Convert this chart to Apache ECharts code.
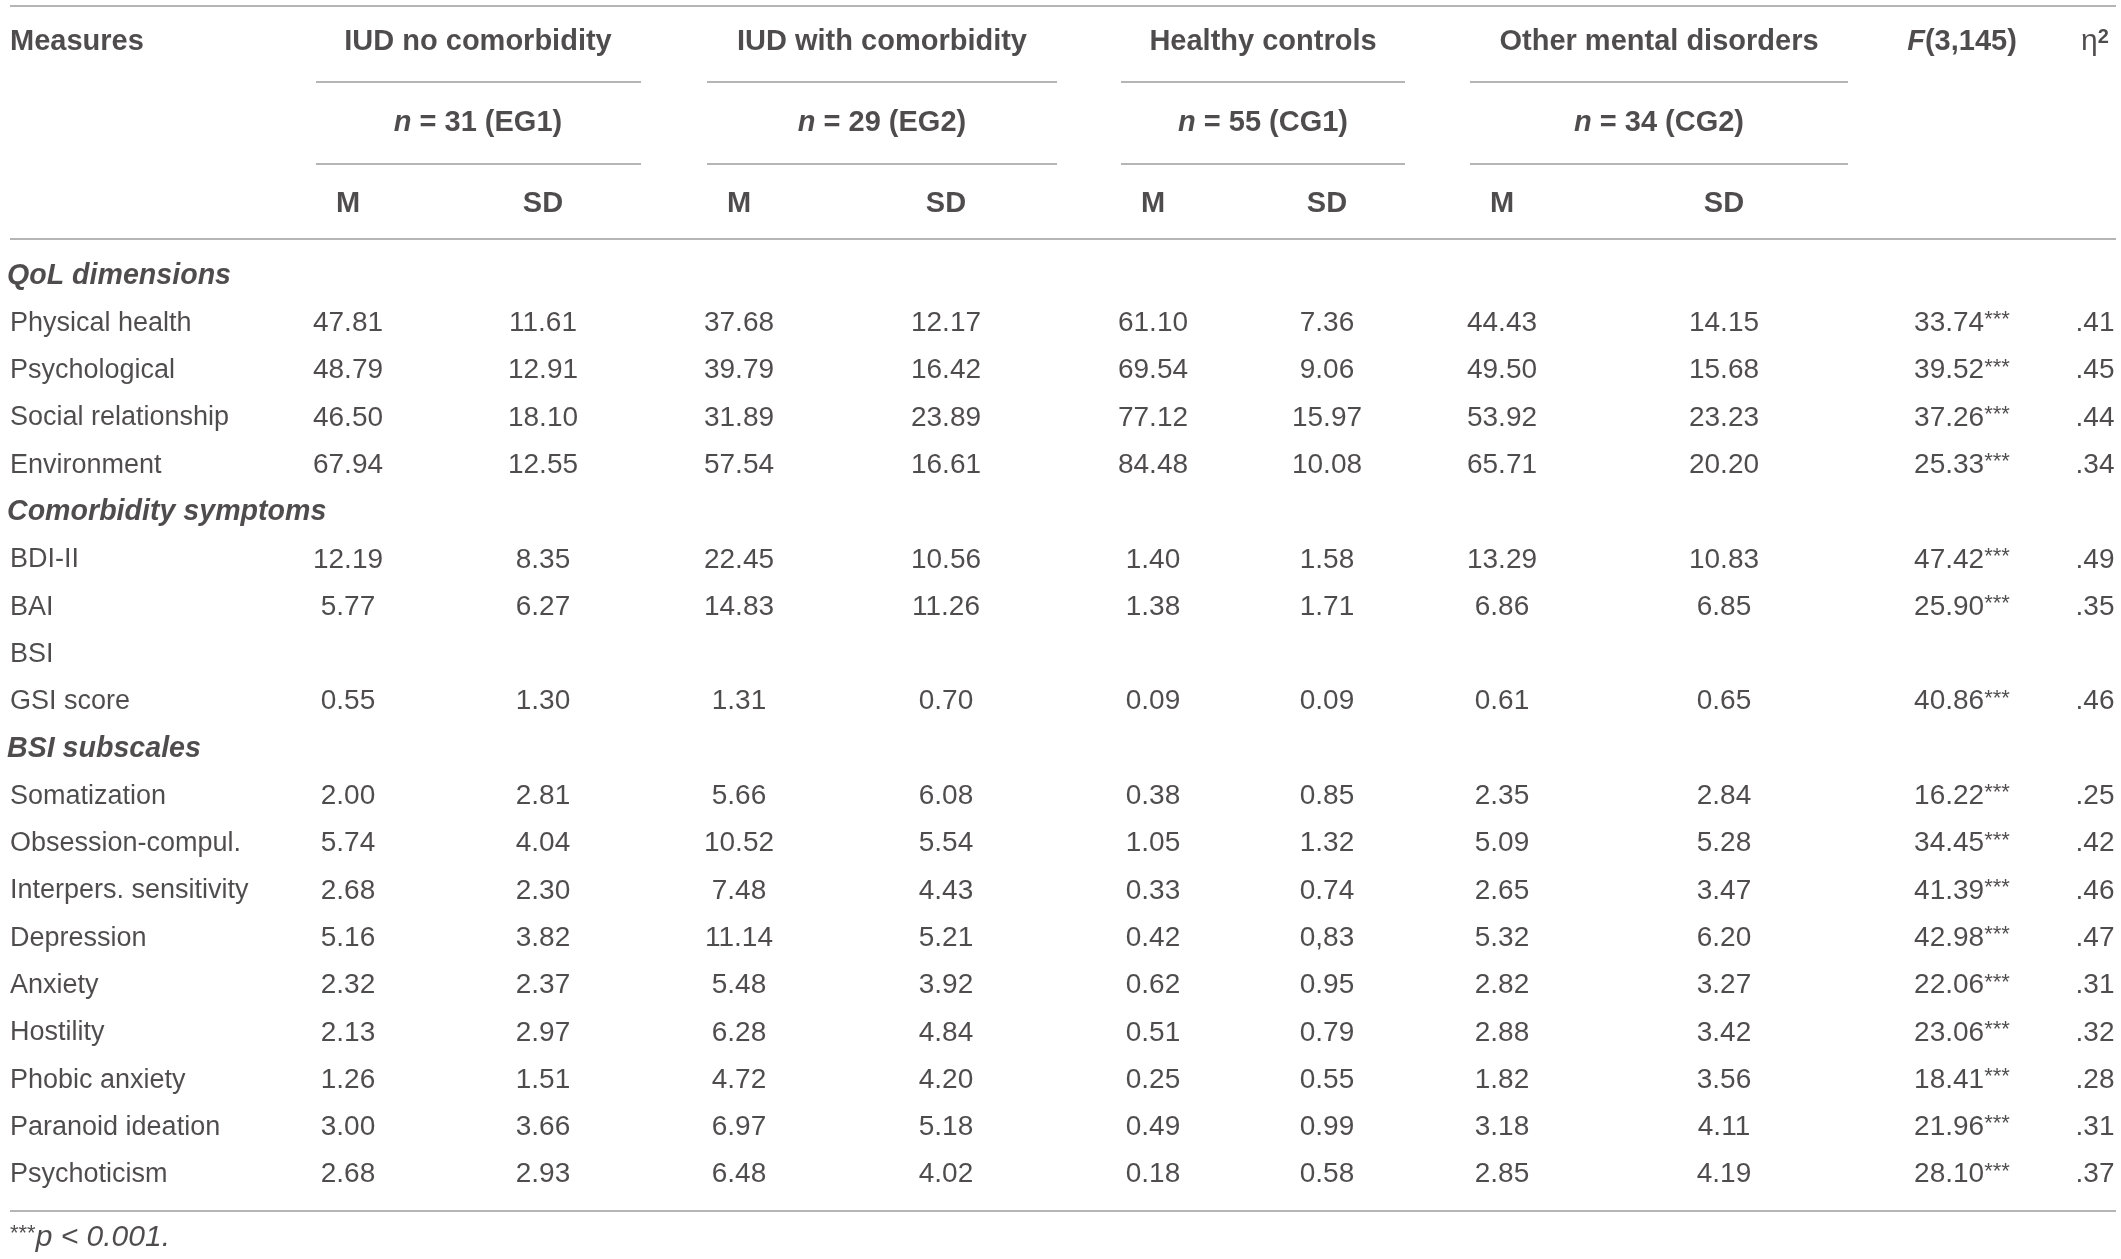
<!DOCTYPE html>
<html>
<head>
    <meta charset="utf-8">
    <title>Quality of life and comorbidity by group</title>
    <script src="https://cdn.jsdelivr.net/npm/echarts@6.0.0/dist/echarts.min.js"></script>
    <style>
        html, body { margin: 0; padding: 0; background: #fff; }
        #chartmain { width: 2121px; height: 1259px; }
    </style>
</head>
<body>
<div id="chartmain"></div>
<script type="text/javascript">
    // ---- table content ----
    var groupNames = ['IUD no comorbidity', 'IUD with comorbidity', 'Healthy controls', 'Other mental disorders'];
    var groupN = ['31 (EG1)', '29 (EG2)', '55 (CG1)', '34 (CG2)'];
    var statNames = ['M', 'SD'];

    var rowLabels = ['QoL dimensions', 'Physical health', 'Psychological', 'Social relationship', 'Environment',
        'Comorbidity symptoms', 'BDI-II', 'BAI', 'BSI', 'GSI score',
        'BSI subscales', 'Somatization', 'Obsession-compul.', 'Interpers. sensitivity', 'Depression',
        'Anxiety', 'Hostility', 'Phobic anxiety', 'Paranoid ideation', 'Psychoticism'];
    var sectionRows = ['QoL dimensions', 'Comorbidity symptoms', 'BSI subscales'];

    var eg1M  = [null, '47.81', '48.79', '46.50', '67.94', null, '12.19', '5.77', null, '0.55', null, '2.00', '5.74', '2.68', '5.16', '2.32', '2.13', '1.26', '3.00', '2.68'];
    var eg1SD = [null, '11.61', '12.91', '18.10', '12.55', null, '8.35', '6.27', null, '1.30', null, '2.81', '4.04', '2.30', '3.82', '2.37', '2.97', '1.51', '3.66', '2.93'];
    var eg2M  = [null, '37.68', '39.79', '31.89', '57.54', null, '22.45', '14.83', null, '1.31', null, '5.66', '10.52', '7.48', '11.14', '5.48', '6.28', '4.72', '6.97', '6.48'];
    var eg2SD = [null, '12.17', '16.42', '23.89', '16.61', null, '10.56', '11.26', null, '0.70', null, '6.08', '5.54', '4.43', '5.21', '3.92', '4.84', '4.20', '5.18', '4.02'];
    var cg1M  = [null, '61.10', '69.54', '77.12', '84.48', null, '1.40', '1.38', null, '0.09', null, '0.38', '1.05', '0.33', '0.42', '0.62', '0.51', '0.25', '0.49', '0.18'];
    var cg1SD = [null, '7.36', '9.06', '15.97', '10.08', null, '1.58', '1.71', null, '0.09', null, '0.85', '1.32', '0.74', '0,83', '0.95', '0.79', '0.55', '0.99', '0.58'];
    var cg2M  = [null, '44.43', '49.50', '53.92', '65.71', null, '13.29', '6.86', null, '0.61', null, '2.35', '5.09', '2.65', '5.32', '2.82', '2.88', '1.82', '3.18', '2.85'];
    var cg2SD = [null, '14.15', '15.68', '23.23', '20.20', null, '10.83', '6.85', null, '0.65', null, '2.84', '5.28', '3.47', '6.20', '3.27', '3.42', '3.56', '4.11', '4.19'];
    var fVals = [null, '33.74', '39.52', '37.26', '25.33', null, '47.42', '25.90', null, '40.86', null, '16.22', '34.45', '41.39', '42.98', '22.06', '23.06', '18.41', '21.96', '28.10'];
    var fSig  = '***';
    var etaVals = [null, '.41', '.45', '.44', '.34', null, '.49', '.35', null, '.46', null, '.25', '.42', '.46', '.47', '.31', '.32', '.28', '.31', '.37'];
    var footnote = 'p < 0.001.';

    // ---- layout (pixels) ----
    var W = 2121, H = 1259;
    var colX = [348, 543, 739, 946, 1153, 1327, 1502, 1724, 1962, 2095];
    var groupX = [478, 882, 1263, 1659];
    var groupSpan = [[316, 641], [707, 1057], [1121, 1405], [1470, 1848]];
    var headY = [42, 123, 204];
    var bodyY0 = 276, rowPitch = 47.3;
    var labelX = 10, sectionX = 7;
    var tableL = 10, tableR = 2116;
    var ruleTop = 6, ruleGroup1 = 82, ruleGroup2 = 164, ruleHead = 239, ruleBottom = 1211, footY = 1238;

    var FONT = '"Liberation Sans", Arial, Helvetica, sans-serif';
    var INK = '#231f20';

    var colData = [eg1M, eg1SD, eg2M, eg2SD, cg1M, cg1SD, cg2M, cg2SD];

    function cell(x, y, txt, left) {
        return {
            value: [x, y],
            txt: txt,
            label: {position: left ? 'right' : 'inside', distance: 0}
        };
    }

    var items = [];
    // header
    items.push(cell(labelX, headY[0], '{hb|Measures}', true));
    for (var g = 0; g < groupNames.length; g++) {
        items.push(cell(groupX[g], headY[0], '{hb|' + groupNames[g] + '}'));
        items.push(cell(groupX[g], headY[1], '{hbi|n}{hb| = ' + groupN[g] + '}'));
        items.push(cell(colX[g * 2], headY[2], '{hb|' + statNames[0] + '}'));
        items.push(cell(colX[g * 2 + 1], headY[2], '{hb|' + statNames[1] + '}'));
    }
    items.push(cell(colX[8], headY[0], '{hbi|F}{hb|(3,145)}'));
    items.push(cell(colX[9], headY[0], '{eta|\u03b7}{supb|2}'));

    // body
    for (var i = 0; i < rowLabels.length; i++) {
        var y = bodyY0 + i * rowPitch;
        if (sectionRows.indexOf(rowLabels[i]) >= 0) {
            items.push(cell(sectionX, y, '{sec|' + rowLabels[i] + '}', true));
            continue;
        }
        items.push(cell(labelX, y, '{tx|' + rowLabels[i] + '}', true));
        for (var c = 0; c < colData.length; c++) {
            if (colData[c][i] != null) items.push(cell(colX[c], y, '{num|' + colData[c][i] + '}'));
        }
        if (fVals[i] != null) items.push(cell(colX[8], y, '{num|' + fVals[i] + '}{sup|' + fSig + '}'));
        if (etaVals[i] != null) items.push(cell(colX[9], y, '{num|' + etaVals[i] + '}'));
    }
    items.push(cell(labelX, footY, '{sup|' + fSig + '}{ti|' + footnote + '}', true));

    // rules
    var rules = [[tableL, tableR, ruleTop], [tableL, tableR, ruleHead], [tableL, tableR, ruleBottom]];
    for (var k = 0; k < groupSpan.length; k++) {
        rules.push([groupSpan[k][0], groupSpan[k][1], ruleGroup1]);
        rules.push([groupSpan[k][0], groupSpan[k][1], ruleGroup2]);
    }

    var myChart = echarts.init(document.getElementById('chartmain'));
    var option = {
        animation: false,
        backgroundColor: '#fff',
        grid: {left: 0, right: 0, top: 0, bottom: 0},
        xAxis: {type: 'value', min: 0, max: W, show: false},
        yAxis: {type: 'value', min: 0, max: H, inverse: true, show: false},
        series: [{
            type: 'scatter',
            symbolSize: 0,
            silent: true,
            data: items,
            label: {
                show: true,
                color: INK,
                fontFamily: FONT,
                formatter: function (p) { return p.data.txt; },
                rich: {
                    hb:   {fontFamily: FONT, fontSize: 29, fontWeight: 'bold', color: INK},
                    hbi:  {fontFamily: FONT, fontSize: 29, fontWeight: 'bold', fontStyle: 'italic', color: INK},
                    sec:  {fontFamily: FONT, fontSize: 28.6, fontWeight: 'bold', fontStyle: 'italic', color: INK},
                    tx:   {fontFamily: FONT, fontSize: 27, color: INK},
                    num:  {fontFamily: FONT, fontSize: 28, color: INK},
                    ti:   {fontFamily: FONT, fontSize: 30, fontStyle: 'italic', color: INK},
                    sup:  {fontFamily: FONT, fontSize: 22, color: INK, verticalAlign: 'top'},
                    supb: {fontFamily: FONT, fontSize: 20, fontWeight: 'bold', color: INK, verticalAlign: 'top'},
                    eta:  {fontFamily: FONT, fontSize: 30, color: INK}
                }
            },
            markLine: {
                silent: true,
                symbol: ['none', 'none'],
                label: {show: false},
                lineStyle: {color: '#9c9c9c', width: 1.6, type: 'solid'},
                data: rules.map(function (r) {
                    return [{coord: [r[0], r[2]]}, {coord: [r[1], r[2]]}];
                })
            }
        }]
    };
    myChart.setOption(option);
</script>
</body>
</html>
